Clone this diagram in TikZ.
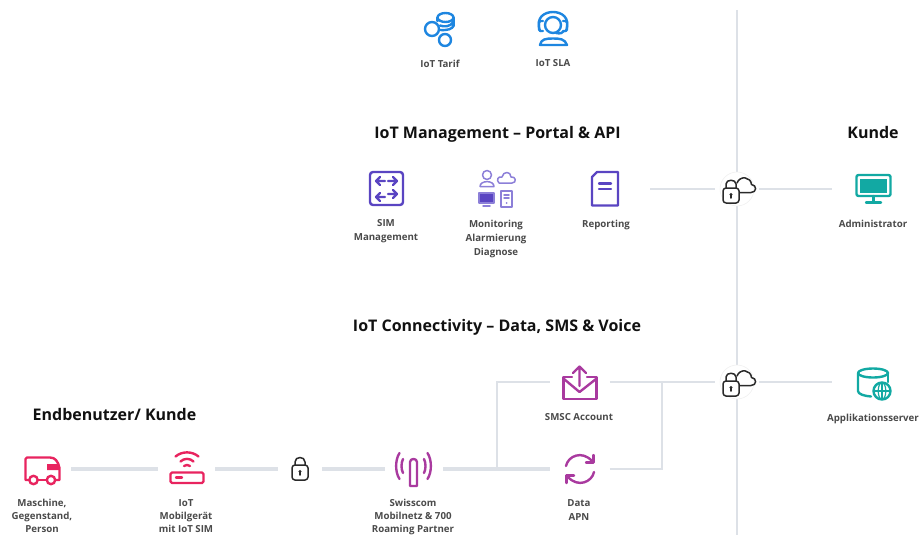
\documentclass[tikz,border=0pt]{standalone}
\usepackage{fontspec}
\setmainfont{Open Sans}
\definecolor{wire}{HTML}{DDE1E7}
\definecolor{lab}{HTML}{4A4A4A}
\definecolor{ink}{HTML}{111111}
\definecolor{blueI}{HTML}{1E86E0}
\definecolor{purpleI}{HTML}{5A45C2}
\definecolor{lilacI}{HTML}{8C7FD8}
\definecolor{tealI}{HTML}{12A9A3}
\definecolor{magI}{HTML}{A93A9F}
\definecolor{redI}{HTML}{E8245F}
\definecolor{darkI}{HTML}{2A2A2A}
\tikzset{
  slot/.style={minimum width=#1,minimum height=30pt,inner sep=0pt,outer sep=0pt},
  lbl/.style={anchor=north,align=center,inner sep=0pt,text=lab,font=\fontsize{9.7}{14}\selectfont\bfseries},
  lblLow/.style={lbl,font=\fontsize{9.7}{13}\selectfont\bfseries},
  head/.style={inner sep=0pt,text=ink,text height=12pt,text depth=3.5pt,font=\fontsize{16}{18}\selectfont\bfseries},
  wireT/.style={draw=wire,line width=2.8pt,line join=miter},
  wireB/.style={draw=wire,line width=3.8pt},
  ico/.style={line width=#1,line cap=round,line join=round},
  ico/.default=2.4pt
}
\begin{document}
\begin{tikzpicture}[x=1pt,y=-1pt]
\path[use as bounding box] (0,0) rectangle (920,535);
\clip (0,0) rectangle (920,535);
% anchors
\node[slot=58pt] (truck) at (42,469) {};
\node[slot=57pt] (router) at (186.5,469) {};
\node[slot=44pt] (lockA) at (300,469) {};
\node[slot=58pt] (ant) at (414,469) {};
\node[slot=60pt] (apn) at (579.5,469) {};
\node[slot=60pt] (smsc) at (579.5,382) {};
\node[slot=44pt] (cloudB) at (737,382) {};
\node[slot=44pt] (cloudA) at (737,189) {};
\node[slot=82pt] (app) at (873,382) {};
\node[slot=82pt] (admin) at (873,189) {};
\node[slot=90pt] (rep) at (605,189) {};
\coordinate (top) at (737,10);
\coordinate (bot) at (737,535);
\coordinate (tjA) at (497,469);
\coordinate (tjB) at (497,382);
\coordinate (tjC) at (662,382);
\coordinate (tjD) at (662,469);
% wires
\draw[wireT] (top) -- (bot);
\draw[wireT] (rep.east) -- (cloudA.west);
\draw[wireT] (cloudA.east) -- (admin.west);
\draw[wireB] (truck.east) -- (router.west);
\draw[wireB] (router.east) -- (lockA.west);
\draw[wireB] (lockA.east) -- (ant.west);
\draw[wireB] (ant.east) -- (apn.west);
\draw[wireT] (tjA) -- (tjB) -- (smsc.west);
\draw[wireT] (smsc.east) -- (cloudB.west);
\draw[wireT] (cloudB.east) -- (app.west);
\draw[wireT] (apn.east) -- (tjD) -- (tjC);
% white discs
\fill[white] (cloudA) circle[radius=17];
\fill[white] (cloudB) circle[radius=17];
\draw[draw=black!6,line width=0.6pt] (cloudA) circle[radius=17];
\draw[draw=black!6,line width=0.6pt] (cloudB) circle[radius=17];
% headings
\node[head] (hA) at (497.5,134) {IoT Management – Portal \& API};
\node[head] (hB) at (873,134) {Kunde};
\node[head] (hC) at (497,327) {IoT Connectivity – Data, SMS \& Voice};
\node[head] (hD) at (114.5,416) {Endbenutzer/ Kunde};
% labels
\node[lbl] (l1) at (440,59.5) {IoT Tarif};
\node[lbl] (l2) at (553,59.5) {IoT SLA};
\node[lbl] (l3) at (386,219.5) {SIM\\Management};
\node[lbl] (l4) at (496,219.5) {Monitoring\\Alarmierung\\Diagnose};
\node[lbl] (l5) at (606,219.5) {Reporting};
\node[lbl] (l6) at (873,219.5) {Administrator};
\node[lbl] (l7) at (579,413.5) {SMSC Account};
\node[lbl] (l8) at (873,413.5) {Applikationsserver};
\node[lbl] (l9) at (579,499.5) {Data\\APN};
\node[lblLow] (l10) at (42,499) {Maschine,\\Gegenstand,\\Person};
\node[lblLow] (l11) at (186,499) {IoT\\Mobilgerät\\mit IoT SIM};
\node[lblLow] (l12) at (413,499) {Swisscom\\Mobilnetz \& 700\\Roaming Partner};
% IoT Tarif
\begin{scope}[ico,draw=blueI]
\draw (432,29) circle[radius=7];
\draw (445,40) circle[radius=6];
\draw (445.5,17.5) ellipse[x radius=8,y radius=4.5];
\draw (437.5,17.5) -- (437.5,21) (453.5,17.5) -- (453.5,26);
\draw (440,25.5) .. controls (444,27) and (450,27) .. (453.5,22);
\draw (453.5,26) .. controls (452,29) and (448,30.5) .. (440,30);
% IoT SLA
\draw (540,31) .. controls (535,17) and (545,12) .. (553,12) .. controls (561,12) and (571,17) .. (566,31);
\draw (553,25) circle[radius=8];
\draw[rounded corners=1.5pt] (543,21) -- (539,21) -- (539,31) -- (543,31);
\draw[rounded corners=1.5pt] (563,21) -- (567,21) -- (567,31) -- (563,31);
\draw (564,31) .. controls (563,33) and (560,34) .. (556,33);
\draw (540,45) .. controls (541,39) and (546,38.5) .. (553,38.5) .. controls (560,38.5) and (565,39) .. (567,45) -- cycle;
\end{scope}
% SIM
\begin{scope}[ico,draw=purpleI]
\draw[rounded corners=3pt] (370,172) rectangle (403,205);
\draw (385,181) -- (376,181) (380,177) -- (376,181) -- (380,185);
\draw (388,181) -- (397,181) (393,177) -- (397,181) -- (393,185);
\draw (385,197) -- (376,197) (380,193) -- (376,197) -- (380,201);
\draw (388,194) -- (397,194) (393,190) -- (397,194) -- (393,198);
\end{scope}
% Monitoring
\begin{scope}[ico=1.5pt,draw=lilacI]
\draw (487,175) circle[radius=4.5];
\draw (480,186.5) .. controls (480,180) and (494,180) .. (494,186.5) -- cycle;
\draw (499,183) .. controls (496,180) and (498,176) .. (502,177) .. controls (503,171) and (511,171) .. (511,177) .. controls (516,176) and (517,183) .. (512,183) -- cycle;
\draw[fill=purpleI] (479,193) rectangle (494,203);
\draw (483,206) -- (490,206);
\draw (501,191) rectangle (512,207);
\draw (504,195) -- (509,195) (504,198) -- (509,198);
\fill[lilacI] (506.5,203) circle[radius=1];
\end{scope}
% Reporting
\begin{scope}[ico,draw=purpleI]
\draw (592,177) -- (597,172) -- (618,172) -- (618,205.5) -- (592,205.5) -- cycle;
\draw (599,183.5) -- (611,183.5) (599,189) -- (611,189);
\end{scope}
% Administrator
\begin{scope}[ico,draw=tealI]
\draw[rounded corners=2pt] (856.5,175) rectangle (890.5,196);
\fill[tealI] (860,178.5) rectangle (887,192.5);
\draw (873.5,196) -- (873.5,202) (866,202.5) -- (881,202.5);
\end{scope}
% Application server
\begin{scope}[ico,draw=tealI]
\draw (873,373) ellipse[x radius=15,y radius=4.5];
\draw (858,373) -- (858,391) .. controls (858,394) and (864,396) .. (871,396.5);
\draw (888,373) -- (888,382);
\draw[fill=white] (882,391) circle[radius=8.5];
\draw[line width=1.2pt] (873.5,391) -- (890.5,391) (882,382.5) -- (882,399.5);
\draw[line width=1.2pt] (882,391) ellipse[x radius=3.8,y radius=8.5];
\end{scope}
% SMSC
\begin{scope}[ico,draw=magI]
\draw (572,377) -- (563.5,377) -- (563.5,399) -- (596.5,399) -- (596.5,377) -- (587,377);
\draw (564,379) -- (579.5,392) -- (596,379);
\draw (579.5,386) -- (579.5,366.5) (573,373) -- (579.5,366.5) -- (586,373);
\end{scope}
% Data APN
\begin{scope}[ico,draw=magI]
\draw (566,466) .. controls (568,456) and (582,450) .. (592,461);
\draw (593.5,455) -- (593.5,462.5) -- (586,462.5);
\draw (594,472) .. controls (592,482) and (578,488) .. (568,477);
\draw (566.5,483) -- (566.5,475.5) -- (574,475.5);
\end{scope}
% Cloud locks
\foreach \cx/\cy in {737/189,737/382}{
\begin{scope}[shift={(\cx,\cy)},ico=1.5pt,draw=darkI]
\draw[rounded corners=3pt] (-14,-1) rectangle (2,14);
\draw (-11,-1) -- (-11,-5) .. controls (-11,-10) and (-1,-10) .. (-1,-5) -- (-1,-1);
\fill[darkI] (-6,5.5) circle[radius=1.6];
\draw (-6,5.5) -- (-6,9);
\draw (3,3.5) -- (14,3.5) .. controls (20,3.5) and (20,-4) .. (14.5,-4.5) .. controls (14,-12) and (3,-14) .. (0,-6);
\end{scope}}
% Lock
\begin{scope}[ico=1.5pt,draw=darkI]
\draw[rounded corners=3pt] (292,465) rectangle (308,480);
\draw (295,465) -- (295,462) .. controls (295,456) and (305,456) .. (305,462) -- (305,465);
\fill[darkI] (300,471.5) circle[radius=1.6];
\draw (300,471.5) -- (300,475);
\end{scope}
% Truck
\begin{scope}[ico,draw=redI]
\draw (30,480) -- (25.5,480) -- (25.5,459) .. controls (25.5,458) and (26,457.5) .. (27,457.5) -- (50,457.5) .. controls (55,457.5) and (58,461) .. (59.5,468) -- (59.5,480) -- (55,480);
\draw (38,480) -- (46,480);
\draw[fill=white] (33.5,480) circle[radius=4.2];
\draw[fill=white] (51,480) circle[radius=4.2];
\fill[redI] (47,464) -- (47,470) -- (59.5,470) -- (58,464) -- cycle;
\end{scope}
% Router
\begin{scope}[ico,draw=redI]
\draw[rounded corners=1.5pt] (170.5,472.5) rectangle (203.5,483);
\draw (176,477.5) -- (182,477.5);
\draw (180.5,461.5) .. controls (184,458) and (190,458) .. (193.5,461.5);
\draw (175.5,456.5) .. controls (182,451) and (192,451) .. (198.5,456.5);
\draw (184,466) .. controls (186,464.5) and (188,464.5) .. (190,466);
\end{scope}
% Antenna
\begin{scope}[ico,draw=magI]
\draw (410,486) -- (410,462) .. controls (410,458) and (417,458) .. (417,462) -- (417,486) -- cycle;
\draw (403,459) .. controls (401,463) and (401,469) .. (403,473);
\draw (424,459) .. controls (426,463) and (426,469) .. (424,473);
\draw (399.5,453) .. controls (395,460) and (395,472) .. (399.5,479);
\draw (427.5,453) .. controls (432,460) and (432,472) .. (427.5,479);
\end{scope}
\end{tikzpicture}
\end{document}
